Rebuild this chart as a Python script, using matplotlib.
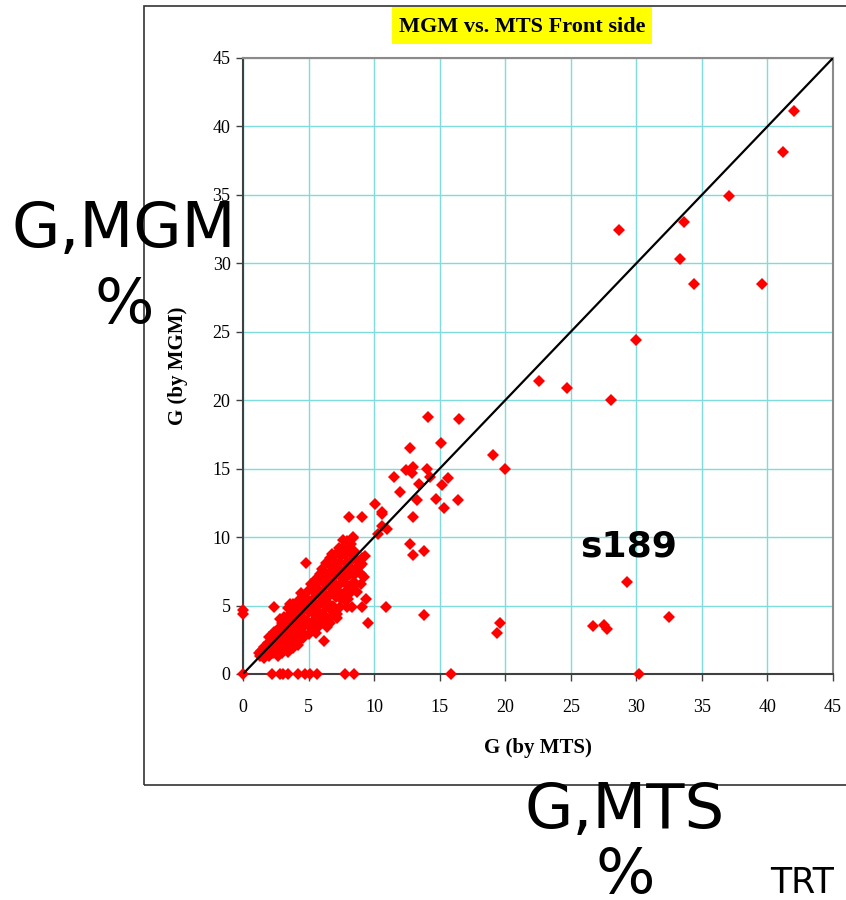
import matplotlib
matplotlib.use("Agg")
import matplotlib.pyplot as plt
from matplotlib.patches import Rectangle

# --- G values read by MTS (x) and MGM (y), in % ---
# dense group along the diagonal
mts_cluster = [
    1.3, 1.4, 1.2, 1.6, 1.7, 1.6, 2.0, 2.1, 1.9, 2.0,
    2.3, 2.4, 2.3, 2.4, 2.7, 2.6, 2.8, 2.7, 2.8, 2.8,
    3.0, 3.1, 3.0, 3.1, 3.0, 3.1,
    3.4, 3.3, 3.5, 3.4, 3.3, 3.5, 3.4, 3.6,
    3.8, 3.7, 3.9, 3.8, 3.7, 3.9, 3.8,
    4.2, 4.1, 4.3, 4.2, 4.1, 4.3, 4.2, 4.4,
    4.6, 4.5, 4.7, 4.6, 4.5, 4.7, 4.6,
    5.0, 5.1, 4.9, 5.0, 5.1, 4.9, 5.0, 5.2,
    5.4, 5.3, 5.5, 5.4, 5.3, 5.5, 5.4, 5.5, 5.6,
    5.8, 5.9, 5.7, 5.8, 5.9, 5.7, 5.8, 5.9, 6.0,
    6.2, 6.1, 6.3, 6.2, 6.1, 6.3, 6.2, 6.1, 6.3, 6.4,
    6.6, 6.7, 6.5, 6.6, 6.7, 6.5, 6.6, 6.7, 6.6, 6.8,
    7.0, 6.9, 7.1, 7.0, 6.9, 7.1, 7.0, 6.9, 7.1, 7.2,
    7.4, 7.5, 7.3, 7.4, 7.5, 7.3, 7.4, 7.5, 7.3, 7.6,
    7.8, 7.7, 7.9, 7.8, 7.7, 7.9, 7.8, 7.7, 7.9, 7.9,
    8.2, 8.3, 8.1, 8.2, 8.3, 8.1, 8.2, 8.4,
    8.6, 8.5, 8.7, 8.6, 8.5, 8.7,
    9.0, 8.9, 9.1, 9.0,
]
mgm_cluster = [
    1.3, 1.7, 1.5, 1.2, 1.6, 2.0, 1.3, 1.8, 2.3, 2.7,
    1.5, 2.1, 2.6, 3.1, 1.3, 1.8, 2.4, 2.9, 3.4, 4.0,
    1.5, 2.0, 2.6, 3.1, 3.7, 4.2,
    1.6, 2.2, 2.7, 3.3, 3.8, 4.3, 4.8, 5.1,
    1.9, 2.4, 3.0, 3.5, 4.0, 4.6, 5.1,
    2.1, 2.7, 3.2, 3.8, 4.3, 4.8, 5.3, 5.9,
    2.6, 3.1, 3.6, 4.1, 4.6, 5.2, 5.7,
    2.9, 3.4, 3.9, 4.5, 5.0, 5.5, 6.1, 6.6,
    3.2, 3.8, 4.3, 4.8, 5.4, 5.9, 6.4, 6.9, 3.0,
    3.5, 4.0, 4.6, 5.1, 5.7, 6.2, 6.8, 7.3, 7.7,
    3.8, 4.4, 4.9, 5.5, 6.0, 6.5, 7.1, 7.6, 8.1, 3.4,
    4.1, 4.7, 5.2, 5.8, 6.3, 6.9, 7.4, 7.9, 8.5, 8.8,
    4.5, 5.0, 5.6, 6.1, 6.7, 7.2, 7.8, 8.3, 8.8, 4.1,
    4.9, 5.5, 6.0, 6.6, 7.1, 7.7, 8.2, 8.7, 9.2, 9.8,
    5.4, 5.9, 6.5, 7.0, 7.6, 8.1, 8.7, 9.3, 9.7, 4.9,
    6.0, 6.6, 7.2, 7.7, 8.3, 8.9, 9.5, 10.0,
    6.6, 7.2, 7.8, 8.4, 9.0, 6.0,
    7.3, 7.9, 8.5, 6.6,
]

# scattered samples
mts_spread = [
    2.4, 4.8, 4.4, 6.2, 6.6, 7.2, 8.0, 8.2, 8.3, 9.05, 9.4, 9.5, 10.9,
    8.4, 9.1, 9.2, 9.3, 8.1, 9.1, 10.1, 10.6, 10.3, 10.6, 11.0,
    10.6, 11.5, 12.0, 12.4, 12.7, 12.9, 13.0, 13.0, 13.3, 13.4, 14.0,
    14.3, 14.7, 15.2, 15.3, 15.6, 16.4, 15.1, 14.1, 16.5, 12.7, 13.0,
    13.8, 13.8, 19.1, 20.0, 19.6, 19.4,
    22.6, 24.7, 28.1, 29.95, 28.7, 33.3, 33.6, 34.4, 39.6, 37.1,
    41.2, 42.0, 29.3, 32.5, 26.7, 27.5, 27.8,
]
mgm_spread = [
    4.9, 8.1, 2.6, 2.4, 3.7, 4.4, 5.5, 6.3, 4.9, 4.9, 5.5, 3.7, 4.9,
    9.9, 8.0, 7.1, 8.6, 11.5, 11.5, 12.4, 11.7, 10.2, 10.8, 10.6,
    11.8, 14.4, 13.3, 14.9, 16.5, 14.7, 15.1, 11.5, 12.7, 13.9, 15.0,
    14.4, 12.8, 13.8, 12.1, 14.3, 12.7, 16.9, 18.8, 18.6, 9.5, 8.7,
    9.0, 4.3, 16.0, 15.0, 3.75, 3.0,
    21.4, 20.9, 20.0, 24.4, 32.4, 30.3, 33.0, 28.5, 28.5, 34.9,
    38.1, 41.1, 6.7, 4.2, 3.5, 3.6, 3.3,
]

# samples with a zero reading on one of the two machines
mts_zero = [0.0, 2.19, 2.82, 3.07, 3.45, 4.21, 4.73, 5.11, 5.62, 7.78, 8.47, 15.9, 30.2, 0.0, 0.0]
mgm_zero = [0.0, 0.0, 0.0, 0.0, 0.0, 0.0, 0.0, 0.0, 0.0, 0.0, 0.0, 0.0, 0.0, 4.4, 4.7]

ticks = [0, 5, 10, 15, 20, 25, 30, 35, 40, 45]

W, H = 846, 900
fig = plt.figure(figsize=(W / 100, H / 100), dpi=100)


def fx(px):
    return px / W


def fy(py):
    return 1 - py / H


# chart frame
fig.patches.append(Rectangle((fx(144), fy(785)), fx(900) - fx(144), fy(6) - fy(785),
                             transform=fig.transFigure, fill=False,
                             edgecolor="#333333", linewidth=1.2, zorder=0))

ax = fig.add_axes([fx(243), fy(674), fx(833) - fx(243), fy(58) - fy(674)])
ax.set_xlim(0, 45)
ax.set_ylim(0, 45)
ax.set_xticks(ticks)
ax.set_yticks(ticks)
ax.grid(True, color="#7fdcdc", linewidth=1.0, zorder=0)
ax.set_axisbelow(True)

for side in ("left", "bottom"):
    ax.spines[side].set_color("#404040")
    ax.spines[side].set_linewidth(1.5)
for side in ("top", "right"):
    ax.spines[side].set_color("#8a8a8a")
    ax.spines[side].set_linewidth(1.5)

ax.tick_params(direction="out", length=5, width=1, color="#404040",
               labelsize=13, labelfontfamily="Liberation Serif")
ax.tick_params(axis="x", pad=13)
ax.tick_params(axis="y", pad=4)

mk = dict(marker="D", markersize=6.0, color="#ff0000", markeredgewidth=0,
          linestyle="none", zorder=3, clip_on=False, antialiased=False)
ax.plot(mts_cluster, mgm_cluster, **mk)
ax.plot(mts_spread, mgm_spread, **mk)
ax.plot(mts_zero, mgm_zero, **mk)

# 1:1 line
ax.plot([0, 45], [0, 45], color="black", linewidth=1.6, zorder=4)

ax.set_xlabel("G (by MTS)", fontsize=15, fontweight="bold", family="Liberation Serif")
ax.set_ylabel("G (by MGM)", fontsize=15, fontweight="bold", family="Liberation Serif")
ax.xaxis.set_label_coords(0.5, (674 - 738) / 616)
ax.yaxis.set_label_coords((188 - 243) / 590, 0.5)

ax.text(29.4, 8.55, "s189", fontsize=26, fontweight="bold", family="DejaVu Sans",
        ha="center", va="baseline", zorder=5)

# title with yellow box
fig.patches.append(Rectangle((fx(392), fy(44)), fx(652) - fx(392), fy(7) - fy(44),
                             transform=fig.transFigure, facecolor="#ffff00",
                             edgecolor="none", zorder=1))
fig.text(fx(522), fy(32), "MGM vs. MTS Front side", fontsize=16, fontweight="bold",
         family="Liberation Serif", ha="center", va="baseline", zorder=2)

# large axis captions
fig.text(fx(124), fy(247), "G,MGM", fontsize=45, family="DejaVu Sans", ha="center", va="baseline")
fig.text(fx(124), fy(323), "%", fontsize=45, family="DejaVu Sans", ha="center", va="baseline")
fig.text(fx(625), fy(828), "G,MTS", fontsize=45, family="DejaVu Sans", ha="center", va="baseline")
fig.text(fx(625), fy(893), "%", fontsize=45, family="DejaVu Sans", ha="center", va="baseline")
fig.text(fx(770), fy(893), "TRT", fontsize=25, family="DejaVu Sans", ha="left", va="baseline")

fig.savefig("out.png", dpi=100)
